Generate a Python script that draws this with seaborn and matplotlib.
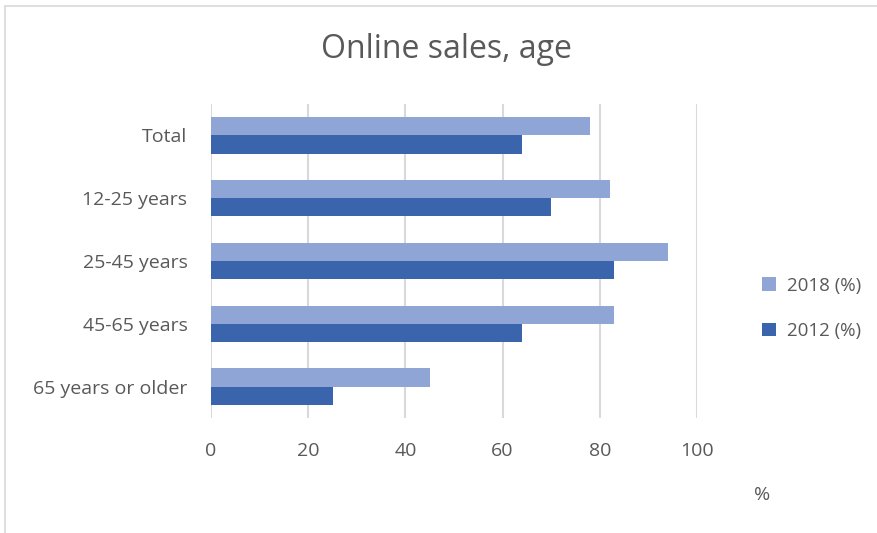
import pandas as pd
import matplotlib.pyplot as plt
import seaborn as sns
from matplotlib.lines import Line2D

# Data
age_groups = ['Total', '12-25 years', '25-45 years', '45-65 years', '65 years or older']
share_2018 = [78, 82, 94, 83, 45]
share_2012 = [64, 70, 83, 64, 25]
series = ['2018 (%)', '2012 (%)']

df = pd.DataFrame({
    'group': age_groups * 2,
    'value': share_2018 + share_2012,
    'year': [series[0]] * len(age_groups) + [series[1]] * len(age_groups),
})

sns.set_theme(style='white')
plt.rcParams['font.family'] = ['Open Sans', 'DejaVu Sans']
text_col = '#595959'

fig = plt.figure(figsize=(8.77, 5.33), dpi=100)
ax = fig.add_axes([211 / 877, 1 - 418 / 533, (697 - 211) / 877, (418 - 104) / 533])

sns.barplot(data=df, y='group', x='value', hue='year', order=age_groups,
            hue_order=series, palette=['#8FA5D5', '#3A65AD'], orient='h',
            width=0.58, saturation=1, linewidth=0, ax=ax, legend=True)

ax.set_xlim(0, 100)
ax.set_xticks([0, 20, 40, 60, 80, 100])
ax.grid(axis='x', color='#D9D9D9', linewidth=1.5)
ax.set_axisbelow(True)
for s in ax.spines.values():
    s.set_visible(False)
ax.set_xlabel('')
ax.set_ylabel('')
ax.tick_params(axis='x', colors=text_col, labelsize=14, length=0, pad=17)
ax.tick_params(axis='y', colors=text_col, labelsize=14, length=0, pad=17)

leg = ax.legend(loc='center left', bbox_to_anchor=(1.1, 0.35), frameon=False,
                fontsize=13.5, labelcolor=text_col, handlelength=0.7, handleheight=0.7,
                handletextpad=0.6, labelspacing=1.45)

fig.text(446 / 877, 1 - 50 / 533, 'Online sales, age', ha='center', va='center',
         fontsize=23, color=text_col)
fig.text(762 / 877, 1 - 495 / 533, '%', ha='center', va='center',
         fontsize=14, color=text_col)

# outer chart frame
fig.add_artist(Line2D([5 / 877, 5 / 877], [0, 1 - 6 / 533], transform=fig.transFigure,
                      color='#D9D9D9', linewidth=1.2))
fig.add_artist(Line2D([5 / 877, 1], [1 - 6 / 533, 1 - 6 / 533], transform=fig.transFigure,
                      color='#D9D9D9', linewidth=1.2))

fig.savefig('out.png', dpi=100)
